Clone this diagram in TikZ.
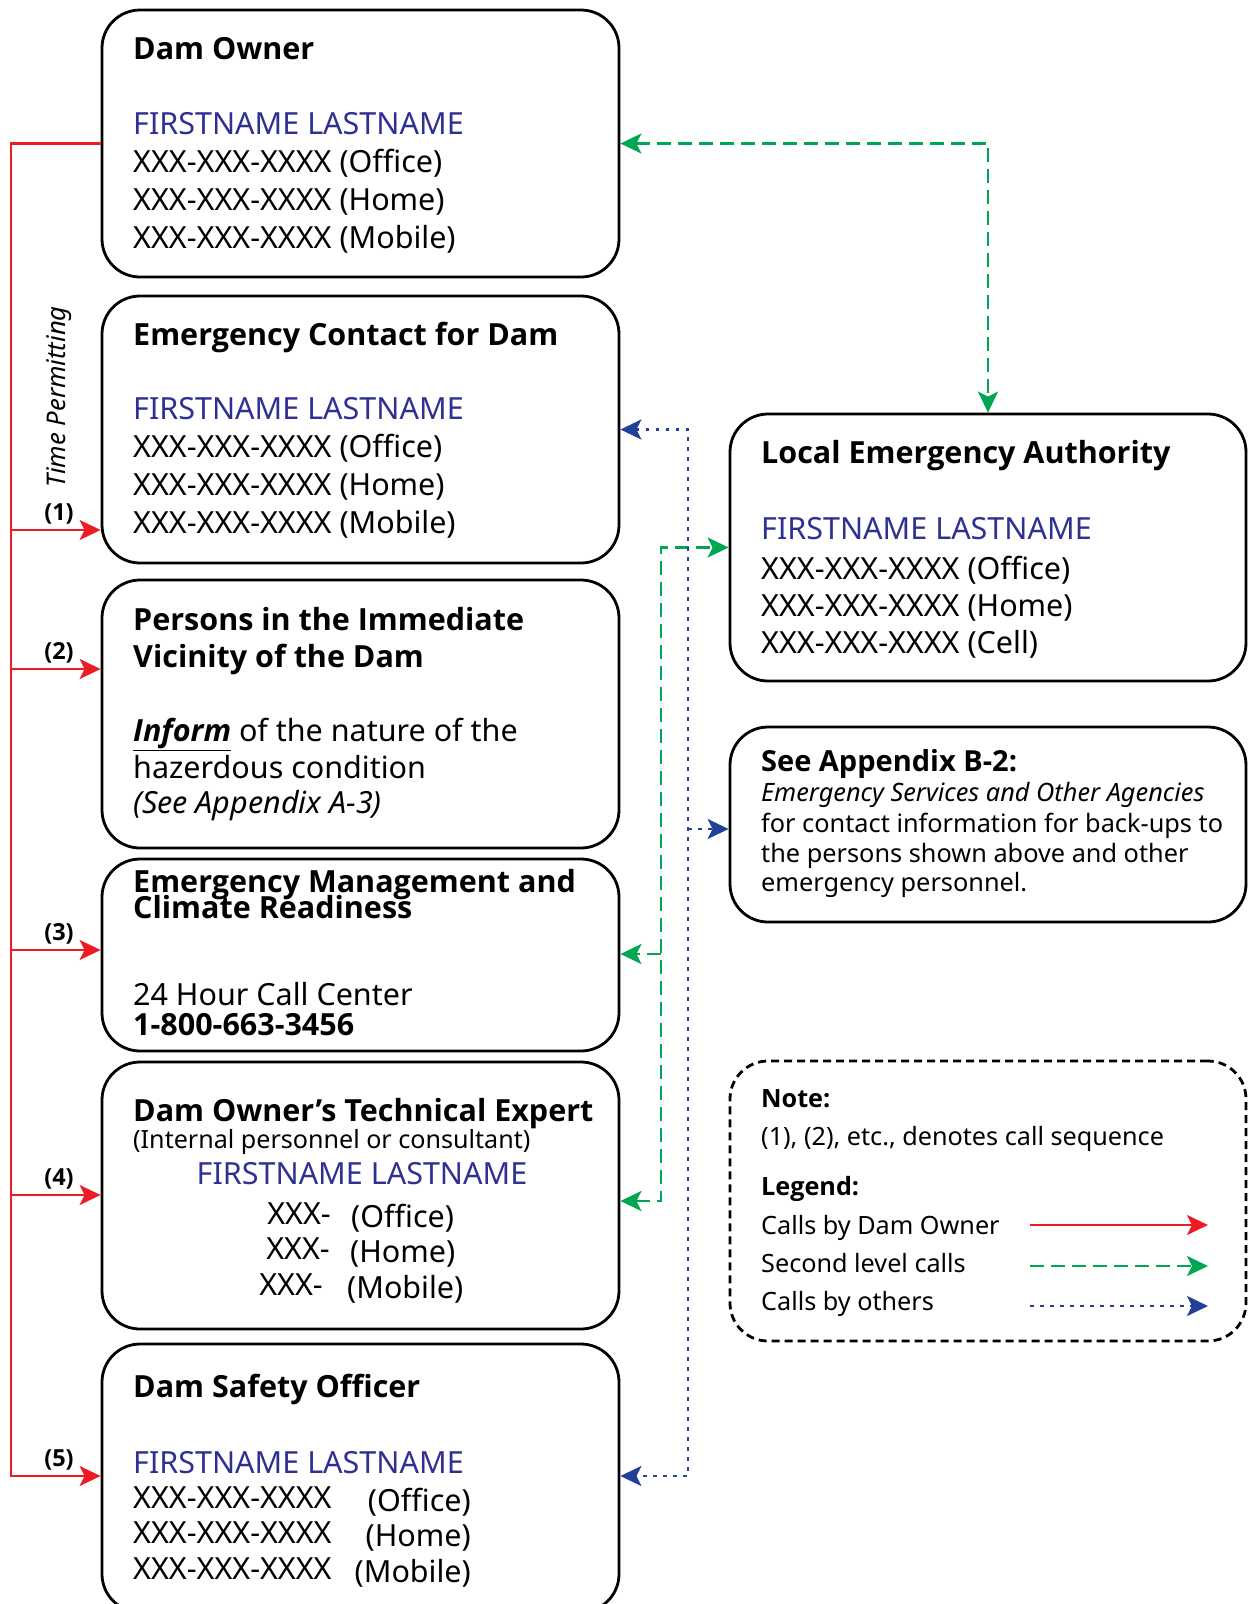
\documentclass[tikz,border=0pt]{standalone}
\usepackage{fontspec}
\IfFontExistsTF{Open Sans Bold}{%
  \IfFontExistsTF{Open Sans Bold Italic}{%
    \setmainfont{Noto Sans}[BoldFont={Open Sans Bold},BoldItalicFont={Open Sans Bold Italic}]}{%
    \setmainfont{Noto Sans}[BoldFont={Open Sans Bold},BoldItalicFont={Noto Sans Italic},BoldItalicFeatures={FakeBold=2}]}}{%
  \setmainfont{Noto Sans}[BoldFont={Noto Sans},BoldFeatures={FakeBold=2.5},BoldItalicFont={Noto Sans Italic},BoldItalicFeatures={FakeBold=2.5}]}
\usetikzlibrary{arrows.meta}
\definecolor{cred}{RGB}{237,28,36}
\definecolor{cgreen}{RGB}{0,166,81}
\definecolor{cblue}{RGB}{33,64,154}
\definecolor{cname}{RGB}{46,49,146}
\newcommand\fmain{\fontsize{30.5}{37}\selectfont}
\newcommand\fsmall{\fontsize{25.3}{30}\selectfont}
\newcommand\fnote{\fontsize{25.2}{30}\selectfont}
\newcommand\flab{\fontsize{23.5}{27}\selectfont}
\tikzset{
  box/.style={draw, line width=2.8pt, rounded corners=38pt, minimum width=517pt, inner sep=0pt},
  notebox/.style={draw, line width=2.8pt, rounded corners=38pt, dash pattern=on 8pt off 5pt, minimum width=516pt, inner sep=0pt},
  txt/.style={anchor=base west, inner sep=0pt, font=\fmain},
  tip/.tip={Stealth[length=21pt,width=20pt,inset=5pt]},
  redl/.style={draw=cred, line width=2.2pt},
  greenl/.style={draw=cgreen, line width=2.6pt, dash pattern=on 14pt off 7pt},
  bluel/.style={draw=cblue, line width=2.4pt, dash pattern=on 3.5pt off 6.5pt},
  seq/.style={anchor=base, inner sep=0pt, font=\flab\bfseries},
}
\begin{document}
\begin{tikzpicture}[x=1pt,y=-1pt]
\useasboundingbox (0,0) rectangle (1248,1604);
% boxes
\node[box, minimum height=267pt] (owner) at (360.5,143.5) {};
\node[box, minimum height=267pt] (ec) at (360.5,429.5) {};
\node[box, minimum height=268pt] (persons) at (360.5,714) {};
\node[box, minimum height=192pt] (emcr) at (360.5,955) {};
\node[box, minimum height=267pt] (tech) at (360.5,1195.5) {};
\node[box, minimum height=268pt] (dso) at (360.5,1478) {};
\node[box, minimum width=516pt, minimum height=267pt] (lea) at (988,547.5) {};
\node[box, minimum width=516pt, minimum height=195pt] (app) at (988,824.5) {};
\node[notebox, minimum height=280pt] (note) at (988,1201) {};
% owner text
\node[txt, font=\fmain\bfseries] (t1) at (133,59) {Dam Owner};
\node[txt, text=cname] (t1n) at (133,134) {FIRSTNAME LASTNAME};
\node[txt] (t1a) at (133,172) {XXX-XXX-XXXX (Office)};
\node[txt] (t1b) at (133,210) {XXX-XXX-XXXX (Home)};
\node[txt] (t1c) at (133,248) {XXX-XXX-XXXX (Mobile)};
% emergency contact
\node[txt, font=\fmain\bfseries] (t2) at (133,345) {Emergency Contact for Dam};
\node[txt, text=cname] (t2n) at (133,419) {FIRSTNAME LASTNAME};
\node[txt] (t2a) at (133,457) {XXX-XXX-XXXX (Office)};
\node[txt] (t2b) at (133,495) {XXX-XXX-XXXX (Home)};
\node[txt] (t2c) at (133,533) {XXX-XXX-XXXX (Mobile)};
% persons
\node[txt, font=\fmain\bfseries] (t3) at (133,630) {Persons in the Immediate};
\node[txt, font=\fmain\bfseries] (t3b) at (133,667) {Vicinity of the Dam};
\node[txt] (t3c) at (133,741) {\underline{\textbf{\textit{Inform}}} of the nature of the};
\node[txt] (t3d) at (133,778) {hazerdous condition};
\node[txt, font=\fmain\itshape] (t3e) at (133,813) {(See Appendix A-3)};
% emcr
\node[txt, font=\fmain\bfseries] (t4) at (133,892) {Emergency Management and};
\node[txt, font=\fmain\bfseries] (t4b) at (133,918) {Climate Readiness};
\node[txt] (t4c) at (133,1005) {24 Hour Call Center};
\node[txt, font=\fmain\bfseries] (t4d) at (133,1035) {1-800-663-3456};
% tech expert
\node[txt, font=\fmain\bfseries] (t5) at (133,1121) {Dam Owner’s Technical Expert};
\node[txt, font=\fontsize{25.1}{30}\selectfont] (t5b) at (133,1148) {(Internal personnel or consultant)};
\node[anchor=base, inner sep=0pt, font=\fmain, text=cname] (t5n) at (362,1184) {FIRSTNAME LASTNAME};
\node[anchor=base east, inner sep=0pt, font=\fmain] (t5a) at (331,1224) {XXX-};
\node[txt] (t5a2) at (351,1227) {(Office)};
\node[anchor=base east, inner sep=0pt, font=\fmain] (t5c) at (330,1259) {XXX-};
\node[txt] (t5c2) at (350,1262) {(Home)};
\node[anchor=base east, inner sep=0pt, font=\fmain] (t5d) at (323,1295) {XXX-};
\node[txt] (t5d2) at (347,1298) {(Mobile)};
% dam safety officer
\node[txt, font=\fmain\bfseries] (t6) at (133,1397) {Dam Safety Officer};
\node[txt, text=cname] (t6n) at (133,1473) {FIRSTNAME LASTNAME};
\node[txt] (t6a) at (133,1508) {XXX-XXX-XXXX};
\node[anchor=base east, inner sep=0pt, font=\fmain] (t6a2) at (471,1511) {(Office)};
\node[txt] (t6b) at (133,1543) {XXX-XXX-XXXX};
\node[anchor=base east, inner sep=0pt, font=\fmain] (t6b2) at (471,1546) {(Home)};
\node[txt] (t6c) at (133,1579) {XXX-XXX-XXXX};
\node[anchor=base east, inner sep=0pt, font=\fmain] (t6c2) at (471,1582) {(Mobile)};
% local emergency authority
\node[txt, font=\fmain\bfseries] (t7) at (761,463) {Local Emergency Authority};
\node[txt, text=cname] (t7n) at (761,539) {FIRSTNAME LASTNAME};
\node[txt] (t7a) at (761,579) {XXX-XXX-XXXX (Office)};
\node[txt] (t7b) at (761,616) {XXX-XXX-XXXX (Home)};
\node[txt] (t7c) at (761,653) {XXX-XXX-XXXX (Cell)};
% appendix
\node[txt, font=\fontsize{29}{34}\selectfont\bfseries] (t8) at (761,771) {See Appendix B-2:};
\node[txt, font=\fsmall\itshape] (t8b) at (761,801) {Emergency Services and Other Agencies};
\node[txt, font=\fsmall] (t8c) at (761,832) {for contact information for back-ups to};
\node[txt, font=\fsmall] (t8d) at (761,862) {the persons shown above and other};
\node[txt, font=\fsmall] (t8e) at (761,891) {emergency personnel.};
% note
\node[txt, font=\fnote\bfseries] (t9) at (761,1107) {Note:};
\node[txt, font=\fnote] (t9b) at (761,1145) {(1), (2), etc., denotes call sequence};
\node[txt, font=\fnote\bfseries] (t9c) at (761,1195) {Legend:};
\node[txt, font=\fnote] (t9d) at (761,1234) {Calls by Dam Owner};
\node[txt, font=\fnote] (t9e) at (761,1272) {Second level calls};
\node[txt, font=\fnote] (t9f) at (761,1310) {Calls by others};
\coordinate (l1a) at (1030,1225); \coordinate (l1b) at (1208,1225);
\coordinate (l2a) at (1030,1266); \coordinate (l2b) at (1208,1266);
\coordinate (l3a) at (1030,1306); \coordinate (l3b) at (1208,1306);
\draw[redl, -{tip[fill=cred]}] (l1a) -- (l1b);
\draw[greenl, -{tip[fill=cgreen]}] (l2a) -- (l2b);
\draw[bluel, -{tip[fill=cblue]}] (l3a) -- (l3b);
% time permitting
\node[rotate=90, inner sep=0pt, font=\fontsize{25.7}{30}\selectfont\itshape] (tp) at (59,397) {Time Permitting};
% red connectors
\coordinate (r0) at (11,143.5);
\coordinate (r1) at (11,530);
\coordinate (r2) at (11,669);
\coordinate (r3) at (11,950);
\coordinate (r4) at (11,1195);
\coordinate (r5) at (11,1476);
\draw[redl, -{tip[fill=cred]}] (owner.west) -- (r0) -- (r5) -- (r5 -| dso.west);
\draw[redl, -{tip[fill=cred]}] (r1) -- (r1 -| ec.west);
\draw[redl, -{tip[fill=cred]}] (r2) -- (r2 -| persons.west);
\draw[redl, -{tip[fill=cred]}] (r3) -- (r3 -| emcr.west);
\draw[redl, -{tip[fill=cred]}] (r4) -- (r4 -| tech.west);
\node[seq] (s1) at (59,520) {(1)};
\node[seq] (s2) at (59,659) {(2)};
\node[seq] (s3) at (59,940) {(3)};
\node[seq] (s4) at (59,1185) {(4)};
\node[seq] (s5) at (59,1466) {(5)};
% green connectors
\draw[greenl, {tip[fill=cgreen]}-{tip[fill=cgreen]}] (owner.east) -| (lea.north);
\coordinate (g1) at (661,547.5);
\coordinate (g2) at (661,954);
\coordinate (g3) at (661,1201);
\draw[greenl, {tip[fill=cgreen]}-{tip[fill=cgreen]}] (g3 -| tech.east) -- (g3) -- (g1) -- (lea.west);
\draw[greenl, -{tip[fill=cgreen]}] (g2) -- (g2 -| emcr.east);
% blue connectors
\coordinate (b1) at (688,429.5);
\coordinate (b2) at (688,829);
\coordinate (b3) at (688,1476);
\draw[bluel, {tip[fill=cblue]}-{tip[fill=cblue]}] (b1 -| ec.east) -- (b1) -- (b3) -- (b3 -| dso.east);
\draw[bluel, -{tip[fill=cblue]}] (b2) -- (b2 -| app.west);
\end{tikzpicture}
\end{document}
